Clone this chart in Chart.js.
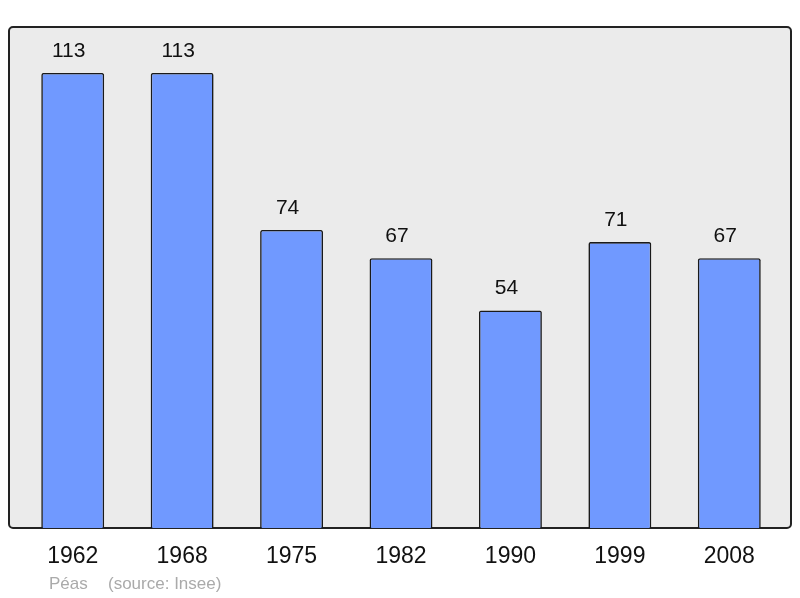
<!DOCTYPE html>
<html>
<head>
<meta charset="utf-8">
<script src="https://cdn.jsdelivr.net/npm/chart.js@4"></script>
<style>
  html, body { margin: 0; padding: 0; background: #fff; }
</style>
</head>
<body>
<canvas id="popChart" width="800" height="598"></canvas>
<script>
// population by census year
const years = ['1962', '1968', '1975', '1982', '1990', '1999', '2008'];
const population = [113, 113, 74, 67, 54, 71, 67];
const footerName = 'Péas';
const footerSource = '(source: Insee)';

// grey rounded panel behind the bars
const panelPlugin = {
    id: 'panel',
    beforeDraw(chart) {
        const { ctx, chartArea: a } = chart;
        const x = a.left - 9, y = a.top, w = a.right - a.left + 16, h = a.bottom - a.top;
        ctx.save();
        ctx.beginPath();
        ctx.roundRect(x, y, w, h, 4);
        ctx.fillStyle = '#ebebeb';
        ctx.fill();
        ctx.lineWidth = 2;
        ctx.strokeStyle = '#222';
        ctx.stroke();
        ctx.restore();
    }
};

// value above each bar + source line
const labelPlugin = {
    id: 'labels',
    afterDatasetsDraw(chart) {
        const { ctx } = chart;
        ctx.save();
        ctx.font = '21px "Liberation Sans", Arial, sans-serif';
        ctx.fillStyle = '#111';
        ctx.textAlign = 'center';
        ctx.textBaseline = 'middle';
        chart.getDatasetMeta(0).data.forEach((bar, i) => {
            ctx.fillText(String(population[i]), bar.x - 4, bar.y - 22);
        });
        ctx.font = '17px "Liberation Sans", Arial, sans-serif';
        ctx.fillStyle = '#aaaaaa';
        ctx.textAlign = 'left';
        ctx.fillText(footerName, 49, 584);
        ctx.fillText(footerSource, 108, 584);
        ctx.restore();
    }
};

new Chart(document.getElementById('popChart'), {
    type: 'bar',
    data: {
        labels: years,
        datasets: [{
            data: population,
            backgroundColor: '#7099ff',
            borderColor: '#1a1a1a',
            borderWidth: 1.6,
            borderSkipped: 'bottom',
            borderRadius: { topLeft: 2, topRight: 2 },
            categoryPercentage: 1,
            barPercentage: 0.575
        }]
    },
    options: {
        responsive: false,
        animation: false,
        layout: { padding: { left: 18, right: 16, top: 27, bottom: 0 } },
        plugins: { legend: { display: false }, tooltip: { enabled: false } },
        scales: {
            x: {
                grid: { display: false },
                border: { display: false },
                ticks: {
                    color: '#111',
                    font: { family: '"Liberation Sans", Arial, sans-serif', size: 23 },
                    padding: 7,
                    maxRotation: 0
                },
                afterFit(scale) { scale.height = 70; }
            },
            y: {
                display: false,
                min: 0,
                max: 124.4
            }
        }
    },
    plugins: [panelPlugin, labelPlugin]
});
</script>
</body>
</html>
